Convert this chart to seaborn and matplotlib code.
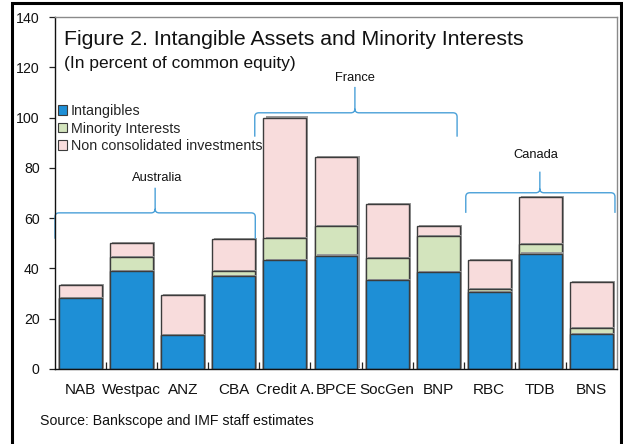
import matplotlib
matplotlib.use("Agg")
import matplotlib.pyplot as plt
import seaborn as sns
import numpy as np
from matplotlib.patches import Patch, PathPatch
from matplotlib.path import Path
from matplotlib.lines import Line2D
import matplotlib.patheffects as pe

banks = ["NAB", "Westpac", "ANZ", "CBA", "Credit A.", "BPCE", "SocGen", "BNP", "RBC", "TDB", "BNS"]
intangibles = [28.2, 39.1, 13.4, 36.8, 43.3, 45.1, 35.4, 38.6, 30.6, 45.9, 13.9]
minority = [0.0, 5.4, 0.0, 2.0, 8.8, 11.8, 8.7, 14.2, 1.2, 3.9, 2.4]
nonconsolidated = [5.2, 5.5, 16.0, 12.9, 47.9, 27.4, 21.5, 4.1, 11.7, 18.6, 18.3]
series_names = ["Intangibles", "Minority Interests", "Non consolidated investments"]
yticks = [0, 20, 40, 60, 80, 100, 120, 140]

c_blue = "#1e8fd6"
c_green = "#d3e4bd"
c_pink = "#f8dcdc"
c_edge = "#3c3c3c"
c_brace = "#4aa0d8"

sns.set_theme(style="white")
plt.rcParams["font.family"] = ["Liberation Sans", "DejaVu Sans"]

W, H = 623, 444
fig = plt.figure(figsize=(W / 100, H / 100), dpi=100)
ax = fig.add_axes([55 / W, 1 - 369 / H, (617 - 55) / W, (369 - 17) / H])

lvl1 = np.array(intangibles)
lvl2 = lvl1 + np.array(minority)
lvl3 = lvl2 + np.array(nonconsolidated)

shadow = [pe.SimplePatchShadow(offset=(1.5, 0.8), shadow_rgbFace="#9a9a9a", alpha=1.0), pe.Normal()]
for vals, col in [(lvl3, c_pink), (lvl2, c_green), (lvl1, c_blue)]:
    sns.barplot(x=banks, y=vals, color=col, saturation=1, width=0.84,
                edgecolor=c_edge, linewidth=1.0, errorbar=None, ax=ax)
for p in ax.patches:
    p.set_path_effects(shadow)

ax.set_xlim(-0.5, len(banks) - 0.5)
ax.set_ylim(0, 140)
ax.set_yticks(yticks)
ax.set_yticklabels([str(v) for v in yticks], fontsize=10.2, color="#111111")
ax.set_xticks(range(len(banks)))
ax.set_xticklabels(banks, fontsize=11, color="#111111")
ax.set_xticks(np.arange(0.5, len(banks) - 0.5, 1), minor=True)
ax.tick_params(axis="x", which="major", length=0, pad=10)
ax.tick_params(axis="x", which="minor", direction="in", length=5, width=0.9, color="#222222", bottom=True)
ax.tick_params(axis="y", which="major", direction="out", length=4, width=0.9, color="#222222", pad=7, left=True)
ax.set_xlabel("")
ax.set_ylabel("")

for s in ["left", "bottom"]:
    ax.spines[s].set_color("#111111")
    ax.spines[s].set_linewidth(1.0)
for s in ["top", "right"]:
    ax.spines[s].set_color("#8a8a8a")
    ax.spines[s].set_linewidth(1.0)

# Titles
fig.text(64 / W, 1 - 45 / H, "Figure 2. Intangible Assets and Minority Interests",
         fontsize=15.3, color="#111111", va="baseline", ha="left")
fig.text(64 / W, 1 - 68 / H, "(In percent of common equity)",
         fontsize=12.5, color="#111111", va="baseline", ha="left")

# Legend
handles = [Patch(facecolor=c, edgecolor=c_edge, linewidth=0.8) for c in (c_blue, c_green, c_pink)]
ax.legend(handles, series_names, loc="upper left", bbox_to_anchor=((58 - 55) / 562, (369 - 104) / 352),
          frameon=False, fontsize=10.3, borderpad=0, borderaxespad=0, handlelength=0.65,
          handleheight=0.65, handletextpad=0.25, labelspacing=0.25)


def brace(x0, x1, xp, yb, yh, yt, rx=0.08, ry=1.6):
    verts = [(x0, yb), (x0, yh - ry), (x0, yh), (x0 + rx, yh),
             (xp - rx, yh), (xp, yh), (xp, yh + ry), (xp, yt),
             (xp, yh + ry), (xp, yh), (xp + rx, yh),
             (x1 - rx, yh), (x1, yh), (x1, yh - ry), (x1, yb)]
    codes = [Path.MOVETO, Path.LINETO, Path.CURVE3, Path.CURVE3,
             Path.LINETO, Path.CURVE3, Path.CURVE3, Path.LINETO,
             Path.MOVETO, Path.CURVE3, Path.CURVE3,
             Path.LINETO, Path.CURVE3, Path.CURVE3, Path.LINETO]
    ax.add_patch(PathPatch(Path(verts, codes), facecolor="none", edgecolor=c_brace,
                           linewidth=1.0, clip_on=False))


brace(-0.5, 3.42, 1.46, 51.8, 62.1, 72.1)
brace(3.41, 7.37, 5.37, 92.4, 101.9, 112.2)
brace(7.54, 10.46, 8.99, 62.1, 70.1, 78.5)
ax.text(1.5, 76.1, "Australia", fontsize=9.3, ha="center", va="center", color="#111111")
ax.text(5.37, 115.8, "France", fontsize=9.3, ha="center", va="center", color="#111111")
ax.text(8.91, 85.2, "Canada", fontsize=9.3, ha="center", va="center", color="#111111")

fig.text(40 / W, 1 - 421 / H, "Source: Bankscope and IMF staff estimates",
         fontsize=10.2, color="#111111", va="center", ha="left")

# Outer frame
fx = [12 / W, 12 / W, 620.5 / W, 620.5 / W]
fy = [0, 1 - 3 / H, 1 - 3 / H, 0]
fig.add_artist(Line2D(fx, fy, color="black", linewidth=2.2, transform=fig.transFigure,
                      solid_joinstyle="miter"))

fig.savefig("out.png", dpi=100)
